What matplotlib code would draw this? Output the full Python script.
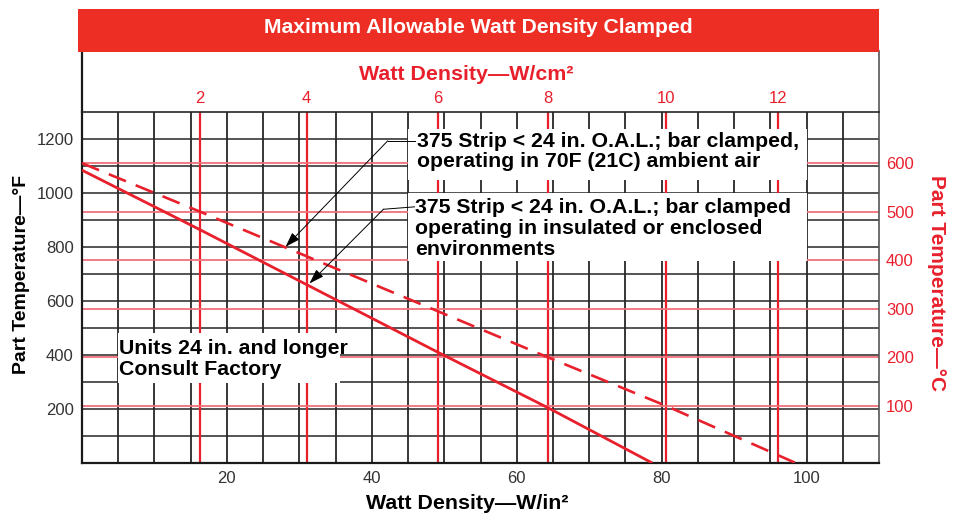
import matplotlib.pyplot as plt
from matplotlib.patches import Rectangle

# Chart data
# solid line: bar clamped, operating in insulated or enclosed environments
solid_x = [0, 16.3, 49.1, 64.3, 78.7]
solid_y = [1086, 865, 411, 205, 0]
# dashed line: bar clamped, operating in 70F (21C) ambient air
dashed_x = [0, 16.3, 64.3, 80.6, 98.5]
dashed_y = [1112, 932, 392, 212, 0]

# W/cm2 scale as printed on the top axis (position in W/in2)
cm2_labels = [2, 4, 6, 8, 10, 12]
cm2_pos = [16.3, 31.0, 49.1, 64.3, 80.6, 96.0]

f_ticks = [200, 400, 600, 800, 1000, 1200]
c_ticks = [100, 200, 300, 400, 500, 600]
w_ticks = [20, 40, 60, 80, 100]

RED = '#E8202C'
LIGHT_RED = '#F0707A'
BLACK = '#262626'
FONT = 'Liberation Sans'


def f2c(f):
    return (f - 32) / 1.8


def c2f(c):
    return c * 1.8 + 32


plt.rcParams['font.family'] = FONT

fig = plt.figure(figsize=(9.61, 5.15), dpi=100)
ax = fig.add_axes([0.0853, 0.1010, 0.8294, 0.6806])
ax.set_xlim(0, 110)
ax.set_ylim(0, 1300)

# black grid
for x in range(5, 110, 5):
    ax.axvline(x, color=BLACK, lw=1.3, zorder=1)
for y in range(100, 1300, 100):
    ax.axhline(y, color=BLACK, lw=1.1, zorder=1)

# red reference lines (W/cm2 and degC)
for x in cm2_pos:
    ax.axvline(x, color=RED, lw=1.6, zorder=2)
for c in c_ticks:
    ax.axhline(c2f(c), color=LIGHT_RED, lw=1.3, zorder=2)

# white note boxes
for (x0, y0, x1, y1) in [(45, 1049, 100, 1238), (45, 749, 100, 1001), (5, 297, 35.6, 482)]:
    ax.add_patch(Rectangle((x0, y0), x1 - x0, y1 - y0, facecolor='white',
                           edgecolor='none', zorder=3))

# curves
ax.plot(solid_x, solid_y, color=RED, lw=2.0, zorder=4, solid_capstyle='butt')
ax.plot(dashed_x, dashed_y, color=RED, lw=1.9, zorder=4, dashes=(7, 4))

# notes
note_kw = dict(fontsize=15.3, fontweight='bold', color='black', ha='left',
               va='center', linespacing=1.12, zorder=5)
ax.text(46.3, 1155, '375 Strip < 24 in. O.A.L.; bar clamped,\noperating in 70F (21C) ambient air', **note_kw)
ax.text(46.0, 870, '375 Strip < 24 in. O.A.L.; bar clamped\noperating in insulated or enclosed\nenvironments', **note_kw)
ax.text(5.1, 386, 'Units 24 in. and longer\nConsult Factory', **note_kw)

# leader lines
ax.plot([45.9, 42.2], [1195, 1195], color='black', lw=0.7, zorder=5)
ax.plot([45.9, 41.6], [950, 941], color='black', lw=0.7, zorder=5)
arrow_kw = dict(arrowstyle='-|>,head_length=0.9,head_width=0.3', color='black',
                lw=0.7, shrinkA=0, shrinkB=0)
ax.annotate('', xy=(28.1, 802), xytext=(42.2, 1195), arrowprops=arrow_kw, zorder=6)
ax.annotate('', xy=(31.4, 666), xytext=(41.6, 941), arrowprops=arrow_kw, zorder=6)

# spines
for s in ['left', 'bottom']:
    ax.spines[s].set_linewidth(1.6)
    ax.spines[s].set_color('#1a1a1a')
ax.spines['top'].set_linewidth(1.2)
ax.spines['top'].set_color(BLACK)
ax.spines['right'].set_linewidth(1.2)
ax.spines['right'].set_color('#555555')
ax.plot([0, 0], [1, 1.174], transform=ax.transAxes, color='#1a1a1a', lw=1.6, clip_on=False)
ax.plot([1, 1], [1, 1.174], transform=ax.transAxes, color='#555555', lw=1.2, clip_on=False)

# ticks
ax.set_xticks(w_ticks)
ax.set_yticks(f_ticks)
ax.tick_params(length=0, labelsize=12, labelcolor='#333333', pad=6)

top = ax.secondary_xaxis('top')
top.set_xticks(cm2_pos, [str(v) for v in cm2_labels])
top.tick_params(length=0, labelsize=12, labelcolor=RED, pad=5)
top.spines['top'].set_visible(False)

right = ax.secondary_yaxis('right', functions=(f2c, c2f))
right.set_yticks(c_ticks)
right.tick_params(length=0, labelsize=12, labelcolor=RED, pad=5)
right.spines['right'].set_visible(False)

# axis titles
fig.text(0.486, 0.023, 'Watt Density\u2014W/in\u00b2', fontsize=15.4, fontweight='bold',
         ha='center', va='center')
fig.text(0.485, 0.855, 'Watt Density\u2014W/cm\u00b2', fontsize=15.4, fontweight='bold',
         color=RED, ha='center', va='center')
fig.text(0.022, 0.468, 'Part Temperature\u2014\u00b0F', fontsize=14, fontweight='bold',
         rotation=90, ha='center', va='center')
fig.text(0.974, 0.45, 'Part Temperature\u2014\u00b0C', fontsize=15, fontweight='bold',
         color=RED, rotation=270, ha='center', va='center')

# title bar
fig.patches.append(Rectangle((0.0812, 0.899), 0.8335, 0.0835, transform=fig.transFigure,
                             facecolor='#ED2E25', edgecolor='none'))
fig.text(0.498, 0.946, 'Maximum Allowable Watt Density Clamped', fontsize=15.2,
         fontweight='bold', color='white', ha='center', va='center')

fig.savefig('out.png', dpi=100)
